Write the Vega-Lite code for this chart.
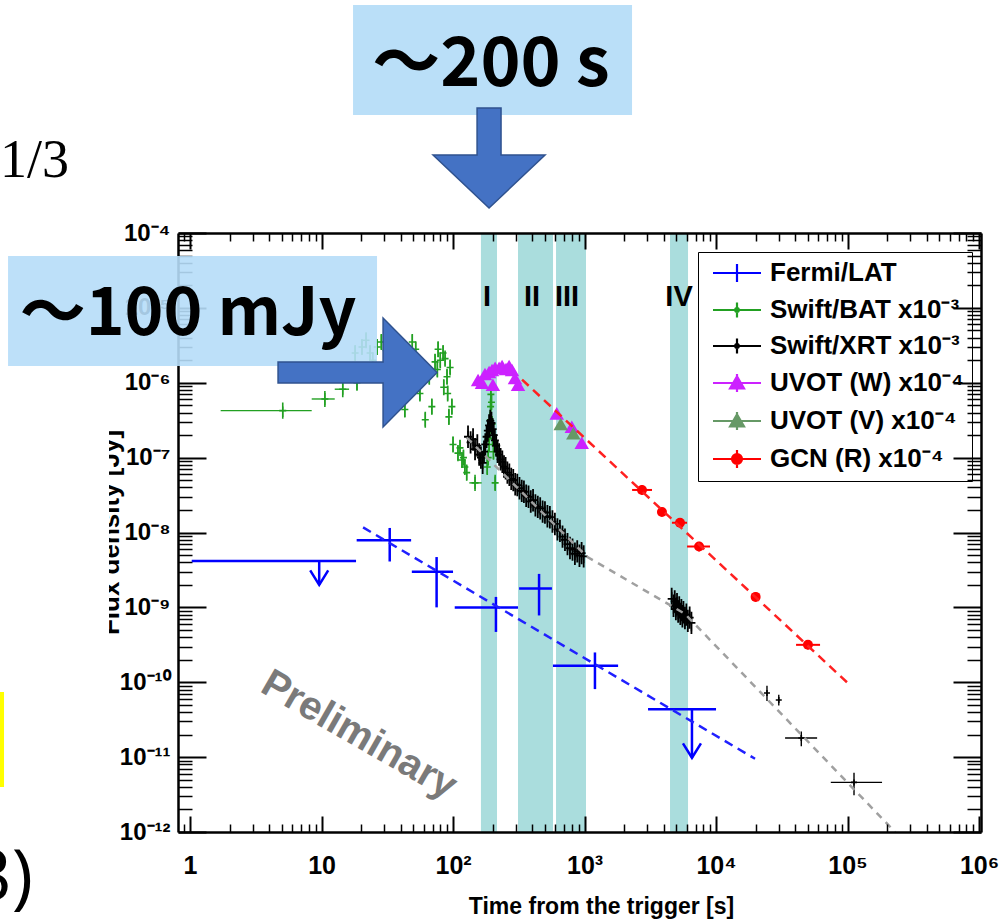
{
  "$schema": "https://vega.github.io/schema/vega-lite/v6.json",
  "width": 803,
  "height": 599,
  "autosize": {"type": "none"},
  "padding": {"left": 178, "top": 233, "right": 18, "bottom": 89},
  "background": "white",
  "config": {"view": {"stroke": null}, "font": "Liberation Sans"},
  "resolve": {"axis": {"x": "independent", "y": "independent"}},
  "datasets": {
    "bands": [
      {"band": "I", "t0": 163, "t1": 216},
      {"band": "II", "t0": 312, "t1": 576},
      {"band": "III", "t0": 607, "t1": 1026},
      {"band": "IV", "t0": 4467, "t1": 6124}
    ],
    "bandlab": [
      {"band": "I", "t": 181, "f": 1.06e-5},
      {"band": "II", "t": 399, "f": 1.06e-5},
      {"band": "III", "t": 736, "f": 1.06e-5},
      {"band": "IV", "t": 5234, "f": 1.06e-5}
    ],
    "models": [
      {"m": "XRT", "t": 127, "f": 1.85e-7},
      {"m": "XRT", "t": 1045, "f": 4.75e-9},
      {"m": "XRT", "t": 5800, "f": 8.2e-10},
      {"m": "XRT", "t": 230000, "f": 1.0e-12},
      {"m": "LAT", "t": 20.7, "f": 1.17e-8},
      {"m": "LAT", "t": 19800, "f": 9.5e-12},
      {"m": "GCN", "t": 335, "f": 1.1e-6},
      {"m": "GCN", "t": 99000, "f": 1.0e-10}
    ],
    "ul": [
      {"t": 9.6, "f": 4.16e-9, "t0": 1.03, "t1": 18.3, "tip": 2.0e-9},
      {"t": 6560, "f": 4.35e-11, "t0": 3040, "t1": 10000, "tip": 9.8e-12}
    ],
    "pts": [
      {"s": "LAT", "t": 33, "f": 7.9e-9, "t0": 18.5, "t1": 48, "f0": 4.1e-9, "f1": 1.15e-8},
      {"s": "LAT", "t": 75, "f": 3.0e-9, "t0": 48.6, "t1": 100, "f0": 1.0e-9, "f1": 4.7e-9},
      {"s": "LAT", "t": 212, "f": 1.0e-9, "t0": 103, "t1": 312, "f0": 4.7e-10, "f1": 1.38e-9},
      {"s": "LAT", "t": 451, "f": 1.78e-9, "t0": 318, "t1": 565, "f0": 7.8e-10, "f1": 2.8e-9},
      {"s": "LAT", "t": 1200, "f": 1.66e-10, "t0": 575, "t1": 1800, "f0": 8.1e-11, "f1": 2.5e-10},

      {"s": "BAT", "t": 5.07, "f": 4.24e-7, "t0": 1.71, "t1": 8.42, "f0": 3.5e-7, "f1": 4.8e-7},
      {"s": "BAT", "t": 10.6, "f": 6.07e-7, "t0": 8.42, "t1": 12.6, "f0": 5.0e-7, "f1": 7.3e-7},
      {"s": "BAT", "t": 14.5, "f": 8.2e-7, "t0": 12.6, "t1": 16.2, "f0": 6.9e-7, "f1": 1.0e-6},
      {"s": "BAT", "t": 18.6, "f": 1.0e-6, "f0": 8.0e-7, "f1": 1.25e-6},
      {"s": "BAT", "t": 18.0, "f": 2.5e-6, "f0": 2.0e-6, "f1": 3.1e-6},
      {"s": "BAT", "t": 20.3, "f": 3.0e-6, "f0": 2.4e-6, "f1": 3.75e-6},
      {"s": "BAT", "t": 21.8, "f": 3.7e-6, "f0": 3.0e-6, "f1": 4.6e-6},
      {"s": "BAT", "t": 23.4, "f": 2.5e-6, "f0": 2.0e-6, "f1": 3.1e-6},
      {"s": "BAT", "t": 24.5, "f": 2.0e-6, "f0": 1.6e-6, "f1": 2.5e-6},
      {"s": "BAT", "t": 26.5, "f": 3.0e-6, "f0": 2.4e-6, "f1": 3.75e-6},
      {"s": "BAT", "t": 28.5, "f": 3.5e-6, "f0": 2.8e-6, "f1": 4.4e-6},
      {"s": "BAT", "t": 31, "f": 2.7e-6, "f0": 2.2e-6, "f1": 3.4e-6},
      {"s": "BAT", "t": 34, "f": 2.2e-6, "f0": 1.8e-6, "f1": 2.75e-6},
      {"s": "BAT", "t": 37, "f": 3.2e-6, "f0": 2.6e-6, "f1": 4.0e-6},
      {"s": "BAT", "t": 41, "f": 1.6e-6, "f0": 1.3e-6, "f1": 2.0e-6},
      {"s": "BAT", "t": 43, "f": 4.4e-7, "f0": 3.5e-7, "f1": 5.5e-7},
      {"s": "BAT", "t": 46, "f": 2.6e-6, "f0": 2.1e-6, "f1": 3.25e-6},
      {"s": "BAT", "t": 49, "f": 3.5e-6, "f0": 2.8e-6, "f1": 4.4e-6},
      {"s": "BAT", "t": 52, "f": 2.8e-6, "f0": 2.2e-6, "f1": 3.5e-6},
      {"s": "BAT", "t": 56, "f": 7.2e-7, "f0": 5.8e-7, "f1": 9.0e-7},
      {"s": "BAT", "t": 61.5, "f": 3.2e-7, "f0": 2.6e-7, "f1": 4.0e-7},
      {"s": "BAT", "t": 66, "f": 1.2e-6, "f0": 9.6e-7, "f1": 1.5e-6},
      {"s": "BAT", "t": 69, "f": 4.8e-7, "f0": 3.8e-7, "f1": 6.0e-7},
      {"s": "BAT", "t": 73, "f": 1.9e-6, "f0": 1.5e-6, "f1": 2.4e-6},
      {"s": "BAT", "t": 76, "f": 1.5e-6, "f0": 1.2e-6, "f1": 1.9e-6},
      {"s": "BAT", "t": 77, "f": 2.8e-6, "f0": 2.2e-6, "f1": 3.5e-6},
      {"s": "BAT", "t": 80, "f": 2.0e-6, "f0": 1.6e-6, "f1": 2.5e-6},
      {"s": "BAT", "t": 84, "f": 2.5e-6, "f0": 2.0e-6, "f1": 3.1e-6},
      {"s": "BAT", "t": 85, "f": 8.7e-7, "f0": 7.0e-7, "f1": 1.1e-6},
      {"s": "BAT", "t": 87, "f": 2.1e-6, "f0": 1.7e-6, "f1": 2.6e-6},
      {"s": "BAT", "t": 90, "f": 1.2e-6, "f0": 9.6e-7, "f1": 1.5e-6},
      {"s": "BAT", "t": 91, "f": 7.2e-7, "f0": 5.8e-7, "f1": 9.0e-7},
      {"s": "BAT", "t": 93, "f": 3.5e-7, "f0": 2.8e-7, "f1": 4.4e-7},
      {"s": "BAT", "t": 95, "f": 1.6e-6, "f0": 1.3e-6, "f1": 2.0e-6},
      {"s": "BAT", "t": 98, "f": 4.8e-7, "f0": 3.8e-7, "f1": 6.0e-7},
      {"s": "BAT", "t": 100, "f": 1.5e-7, "f0": 1.2e-7, "f1": 1.9e-7},
      {"s": "BAT", "t": 109, "f": 1.15e-7, "f0": 9.2e-8, "f1": 1.45e-7},
      {"s": "BAT", "t": 113, "f": 1.35e-7, "f0": 1.1e-7, "f1": 1.7e-7},
      {"s": "BAT", "t": 117, "f": 9.3e-8, "f0": 7.4e-8, "f1": 1.16e-7},
      {"s": "BAT", "t": 120, "f": 1.0e-7, "f0": 8.0e-8, "f1": 1.25e-7},
      {"s": "BAT", "t": 123, "f": 7.5e-8, "f0": 6.0e-8, "f1": 9.4e-8},
      {"s": "BAT", "t": 127, "f": 6.3e-8, "f0": 5.0e-8, "f1": 7.9e-8},
      {"s": "BAT", "t": 147, "f": 4.6e-8, "t0": 133, "t1": 165, "f0": 3.8e-8, "f1": 5.5e-8},
      {"s": "BAT", "t": 182, "f": 7.5e-8, "f0": 6.0e-8, "f1": 9.4e-8},
      {"s": "BAT", "t": 185, "f": 1.0e-7, "f0": 8.0e-8, "f1": 1.25e-7},
      {"s": "BAT", "t": 188, "f": 1.5e-7, "f0": 1.2e-7, "f1": 1.9e-7},
      {"s": "BAT", "t": 190, "f": 2.2e-7, "f0": 1.8e-7, "f1": 2.75e-7},
      {"s": "BAT", "t": 192, "f": 3.2e-7, "f0": 2.6e-7, "f1": 4.0e-7},
      {"s": "BAT", "t": 193, "f": 4.8e-7, "f0": 3.8e-7, "f1": 6.0e-7},
      {"s": "BAT", "t": 194, "f": 7.0e-7, "f0": 5.6e-7, "f1": 8.8e-7},
      {"s": "BAT", "t": 196, "f": 5.5e-7, "f0": 4.4e-7, "f1": 6.9e-7},
      {"s": "BAT", "t": 198, "f": 2.8e-7, "f0": 2.2e-7, "f1": 3.5e-7},
      {"s": "BAT", "t": 200, "f": 1.8e-7, "f0": 1.4e-7, "f1": 2.25e-7},
      {"s": "BAT", "t": 203, "f": 1.2e-7, "f0": 9.6e-8, "f1": 1.5e-7},
      {"s": "BAT", "t": 209, "f": 4.6e-8, "f0": 3.7e-8, "f1": 5.6e-8},

      {"s": "XRT", "t": 130, "f": 1.9e-7, "f0": 1.56e-7, "f1": 2.28e-7},
      {"s": "XRT", "t": 136, "f": 1.6e-7, "f0": 1.31e-7, "f1": 1.92e-7},
      {"s": "XRT", "t": 142, "f": 1.75e-7, "f0": 1.43e-7, "f1": 2.1e-7},
      {"s": "XRT", "t": 147, "f": 1.3e-7, "f0": 1.07e-7, "f1": 1.56e-7},
      {"s": "XRT", "t": 153, "f": 1.45e-7, "f0": 1.19e-7, "f1": 1.74e-7},
      {"s": "XRT", "t": 158, "f": 1.1e-7, "f0": 9.0e-8, "f1": 1.32e-7},
      {"s": "XRT", "t": 163, "f": 1.0e-7, "f0": 8.2e-8, "f1": 1.2e-7},
      {"s": "XRT", "t": 168, "f": 8.5e-8, "f0": 7.0e-8, "f1": 1.02e-7},
      {"s": "XRT", "t": 172, "f": 1.2e-7, "f0": 9.8e-8, "f1": 1.44e-7},
      {"s": "XRT", "t": 176, "f": 1.5e-7, "f0": 1.23e-7, "f1": 1.8e-7},
      {"s": "XRT", "t": 180, "f": 1.9e-7, "f0": 1.56e-7, "f1": 2.28e-7},
      {"s": "XRT", "t": 184, "f": 2.3e-7, "f0": 1.89e-7, "f1": 2.76e-7},
      {"s": "XRT", "t": 188, "f": 2.7e-7, "f0": 2.21e-7, "f1": 3.24e-7},
      {"s": "XRT", "t": 192, "f": 3.1e-7, "f0": 2.54e-7, "f1": 3.72e-7},
      {"s": "XRT", "t": 196, "f": 2.9e-7, "f0": 2.38e-7, "f1": 3.48e-7},
      {"s": "XRT", "t": 200, "f": 2.4e-7, "f0": 1.97e-7, "f1": 2.88e-7},
      {"s": "XRT", "t": 204, "f": 2.0e-7, "f0": 1.64e-7, "f1": 2.4e-7},
      {"s": "XRT", "t": 208, "f": 1.7e-7, "f0": 1.39e-7, "f1": 2.04e-7},
      {"s": "XRT", "t": 213, "f": 1.45e-7, "f0": 1.19e-7, "f1": 1.74e-7},
      {"s": "XRT", "t": 218, "f": 1.2e-7, "f0": 9.8e-8, "f1": 1.44e-7},
      {"s": "XRT", "t": 224, "f": 1.1e-7, "f0": 9.0e-8, "f1": 1.32e-7},
      {"s": "XRT", "t": 230, "f": 9.5e-8, "f0": 7.8e-8, "f1": 1.14e-7},
      {"s": "XRT", "t": 237, "f": 8.8e-8, "f0": 7.2e-8, "f1": 1.06e-7},
      {"s": "XRT", "t": 244, "f": 7.6e-8, "f0": 6.2e-8, "f1": 9.1e-8},
      {"s": "XRT", "t": 251, "f": 7.2e-8, "f0": 5.9e-8, "f1": 8.6e-8},
      {"s": "XRT", "t": 259, "f": 6.3e-8, "f0": 5.2e-8, "f1": 7.6e-8},
      {"s": "XRT", "t": 268, "f": 5.9e-8, "f0": 4.8e-8, "f1": 7.1e-8},
      {"s": "XRT", "t": 277, "f": 5.2e-8, "f0": 4.3e-8, "f1": 6.2e-8},
      {"s": "XRT", "t": 287, "f": 5.0e-8, "f0": 4.1e-8, "f1": 6.0e-8},
      {"s": "XRT", "t": 297, "f": 4.4e-8, "f0": 3.6e-8, "f1": 5.3e-8},
      {"s": "XRT", "t": 308, "f": 4.3e-8, "f0": 3.5e-8, "f1": 5.2e-8},
      {"s": "XRT", "t": 320, "f": 3.9e-8, "f0": 3.2e-8, "f1": 4.7e-8},
      {"s": "XRT", "t": 333, "f": 3.6e-8, "f0": 2.95e-8, "f1": 4.3e-8},
      {"s": "XRT", "t": 346, "f": 3.5e-8, "f0": 2.87e-8, "f1": 4.2e-8},
      {"s": "XRT", "t": 360, "f": 3.1e-8, "f0": 2.54e-8, "f1": 3.7e-8},
      {"s": "XRT", "t": 375, "f": 3.0e-8, "f0": 2.46e-8, "f1": 3.6e-8},
      {"s": "XRT", "t": 390, "f": 2.6e-8, "f0": 2.13e-8, "f1": 3.1e-8},
      {"s": "XRT", "t": 406, "f": 2.7e-8, "f0": 2.21e-8, "f1": 3.24e-8},
      {"s": "XRT", "t": 423, "f": 2.3e-8, "f0": 1.89e-8, "f1": 2.76e-8},
      {"s": "XRT", "t": 441, "f": 2.2e-8, "f0": 1.8e-8, "f1": 2.64e-8},
      {"s": "XRT", "t": 460, "f": 2.1e-8, "f0": 1.72e-8, "f1": 2.52e-8},
      {"s": "XRT", "t": 480, "f": 1.9e-8, "f0": 1.56e-8, "f1": 2.28e-8},
      {"s": "XRT", "t": 500, "f": 1.85e-8, "f0": 1.52e-8, "f1": 2.22e-8},
      {"s": "XRT", "t": 522, "f": 1.65e-8, "f0": 1.35e-8, "f1": 1.98e-8},
      {"s": "XRT", "t": 545, "f": 1.6e-8, "f0": 1.31e-8, "f1": 1.92e-8},
      {"s": "XRT", "t": 570, "f": 1.4e-8, "f0": 1.15e-8, "f1": 1.68e-8},
      {"s": "XRT", "t": 595, "f": 1.3e-8, "f0": 1.07e-8, "f1": 1.56e-8},
      {"s": "XRT", "t": 622, "f": 1.1e-8, "f0": 9.0e-9, "f1": 1.32e-8},
      {"s": "XRT", "t": 650, "f": 1.05e-8, "f0": 8.6e-9, "f1": 1.26e-8},
      {"s": "XRT", "t": 680, "f": 8.8e-9, "f0": 7.2e-9, "f1": 1.06e-8},
      {"s": "XRT", "t": 710, "f": 8.0e-9, "f0": 6.6e-9, "f1": 9.6e-9},
      {"s": "XRT", "t": 742, "f": 7.0e-9, "f0": 5.7e-9, "f1": 8.4e-9},
      {"s": "XRT", "t": 775, "f": 6.2e-9, "f0": 5.1e-9, "f1": 7.4e-9},
      {"s": "XRT", "t": 810, "f": 5.9e-9, "f0": 4.8e-9, "f1": 7.1e-9},
      {"s": "XRT", "t": 845, "f": 5.2e-9, "f0": 4.3e-9, "f1": 6.2e-9},
      {"s": "XRT", "t": 880, "f": 5.6e-9, "f0": 4.6e-9, "f1": 6.7e-9},
      {"s": "XRT", "t": 915, "f": 4.9e-9, "f0": 4.0e-9, "f1": 5.9e-9},
      {"s": "XRT", "t": 950, "f": 5.3e-9, "f0": 4.3e-9, "f1": 6.4e-9},
      {"s": "XRT", "t": 985, "f": 4.8e-9, "f0": 3.9e-9, "f1": 5.8e-9},
      {"s": "XRT", "t": 4600, "f": 1.3e-9, "f0": 1.0e-9, "f1": 1.6e-9},
      {"s": "XRT", "t": 4750, "f": 1.05e-9, "f0": 8.2e-10, "f1": 1.3e-9},
      {"s": "XRT", "t": 4850, "f": 1.2e-9, "f0": 9.4e-10, "f1": 1.5e-9},
      {"s": "XRT", "t": 4950, "f": 9.5e-10, "f0": 7.4e-10, "f1": 1.2e-9},
      {"s": "XRT", "t": 5050, "f": 1.1e-9, "f0": 8.6e-10, "f1": 1.38e-9},
      {"s": "XRT", "t": 5150, "f": 8.8e-10, "f0": 6.9e-10, "f1": 1.1e-9},
      {"s": "XRT", "t": 5250, "f": 1.0e-9, "f0": 7.8e-10, "f1": 1.25e-9},
      {"s": "XRT", "t": 5350, "f": 8.2e-10, "f0": 6.4e-10, "f1": 1.03e-9},
      {"s": "XRT", "t": 5450, "f": 9.2e-10, "f0": 7.2e-10, "f1": 1.15e-9},
      {"s": "XRT", "t": 5550, "f": 7.6e-10, "f0": 5.9e-10, "f1": 9.5e-10},
      {"s": "XRT", "t": 5650, "f": 8.6e-10, "f0": 6.7e-10, "f1": 1.08e-9},
      {"s": "XRT", "t": 5800, "f": 7.2e-10, "f0": 5.6e-10, "f1": 9.0e-10},
      {"s": "XRT", "t": 5950, "f": 8.0e-10, "f0": 6.2e-10, "f1": 1.0e-9},
      {"s": "XRT", "t": 6100, "f": 6.6e-10, "f0": 5.1e-10, "f1": 8.2e-10},
      {"s": "XRT", "t": 6300, "f": 7.3e-10, "f0": 5.7e-10, "f1": 9.1e-10},
      {"s": "XRT", "t": 6500, "f": 6.2e-10, "f0": 4.8e-10, "f1": 7.8e-10},
      {"s": "XRT", "t": 24400, "f": 7.2e-11, "f0": 5.6e-11, "f1": 9.0e-11},
      {"s": "XRT", "t": 30000, "f": 5.8e-11, "f0": 4.9e-11, "f1": 6.8e-11},
      {"s": "XRT", "t": 44500, "f": 1.8e-11, "t0": 33500, "t1": 58700, "f0": 1.4e-11, "f1": 2.2e-11},
      {"s": "XRT", "t": 112000, "f": 4.6e-12, "t0": 74600, "t1": 183000, "f0": 3.1e-12, "f1": 6.2e-12},

      {"s": "UVW", "t": 155, "f": 1.09e-6},
      {"s": "UVW", "t": 166, "f": 1.0e-6},
      {"s": "UVW", "t": 175, "f": 1.31e-6},
      {"s": "UVW", "t": 188, "f": 1.39e-6},
      {"s": "UVW", "t": 198, "f": 1.48e-6},
      {"s": "UVW", "t": 201, "f": 9.4e-7},
      {"s": "UVW", "t": 209, "f": 1.58e-6},
      {"s": "UVW", "t": 224, "f": 1.58e-6},
      {"s": "UVW", "t": 236, "f": 1.67e-6},
      {"s": "UVW", "t": 253, "f": 1.53e-6},
      {"s": "UVW", "t": 267, "f": 1.67e-6},
      {"s": "UVW", "t": 281, "f": 1.48e-6},
      {"s": "UVW", "t": 296, "f": 1.16e-6},
      {"s": "UVW", "t": 312, "f": 9.4e-7},
      {"s": "UVW", "t": 615, "f": 3.9e-7},
      {"s": "UVW", "t": 800, "f": 2.59e-7},
      {"s": "UVW", "t": 952, "f": 1.58e-7},
      {"s": "UVV", "t": 659, "f": 2.81e-7},
      {"s": "UVV", "t": 822, "f": 2.11e-7},

      {"s": "GCN", "t": 2735, "f": 3.7e-8, "t0": 2300, "t1": 3260, "f0": 3.2e-8, "f1": 4.3e-8},
      {"s": "GCN", "t": 3880, "f": 1.88e-8, "f0": 1.65e-8, "f1": 2.15e-8},
      {"s": "GCN", "t": 5320, "f": 1.35e-8, "t0": 4620, "t1": 6020, "f0": 1.18e-8, "f1": 1.55e-8},
      {"s": "GCN", "t": 7430, "f": 6.5e-9, "t0": 6020, "t1": 9000, "f0": 5.6e-9, "f1": 7.5e-9},
      {"s": "GCN", "t": 20000, "f": 1.38e-9, "f0": 1.2e-9, "f1": 1.6e-9},
      {"s": "GCN", "t": 50000, "f": 3.16e-10, "t0": 40600, "t1": 61800, "f0": 2.75e-10, "f1": 3.65e-10}
    ]
  },
  "layer": [
    {
      "data": {"name": "bands"},
      "mark": {"type": "rect", "fill": "#aadddd"},
      "encoding": {
        "x": {"field": "t0", "type": "quantitative", "scale": {"type": "log", "domain": [0.81, 1035000], "nice": false},
          "axis": {"orient": "bottom", "values": [1, 10, 100, 1000, 10000, 100000, 1000000],
            "labelExpr": "datum.value == 1 ? '1' : datum.value == 10 ? '10' : '10' + ['', '', '²', '³', '⁴', '⁵', '⁶'][round(log(datum.value) / LN10)]",
            "labelFont": "Liberation Sans", "labelFontWeight": "bold", "labelFontSize": 25, "labelColor": "black",
            "labelPadding": 37, "labelBaseline": "top", "labelFlush": false, "labelOverlap": false,
            "tickSize": -16, "tickWidth": 2, "tickColor": "black",
            "domain": true, "domainColor": "black", "domainWidth": 2.5, "grid": false,
            "title": "Time from the trigger [s]", "titleFont": "Liberation Sans", "titleFontWeight": "bold", "titleFontSize": 23, "titleColor": "black",
            "titleX": 423, "titleY": 81, "titleBaseline": "alphabetic", "titleAlign": "center", "titleAnchor": null, "zindex": 1}},
        "x2": {"field": "t1"}
      }
    },
    {
      "data": {"name": "bandlab"},
      "mark": {"type": "text", "font": "Liberation Sans", "fontWeight": "bold", "fontSize": 29, "fill": "black", "align": "center", "baseline": "alphabetic"},
      "encoding": {
        "x": {"field": "t", "type": "quantitative", "scale": {"type": "log", "domain": [0.81, 1035000], "nice": false}, "axis": null},
        "y": {"field": "f", "type": "quantitative", "scale": {"type": "log", "domain": [1e-12, 0.0001], "nice": false}, "axis": null},
        "text": {"field": "band"}
      }
    },
    {
      "data": {"name": "pts"},
      "transform": [{"filter": "(datum.s == 'BAT' || datum.s == 'XRT') && datum.f0 != null"}],
      "mark": {"type": "rule", "strokeWidth": 1.4},
      "encoding": {
        "x": {"field": "t", "type": "quantitative", "scale": {"type": "log", "domain": [0.81, 1035000], "nice": false},
          "axis": {"orient": "top", "values": [0.9, 2, 3, 4, 5, 6, 7, 8, 9, 20, 30, 40, 50, 60, 70, 80, 90, 200, 300, 400, 500, 600, 700, 800, 900, 2000, 3000, 4000, 5000, 6000, 7000, 8000, 9000, 20000, 30000, 40000, 50000, 60000, 70000, 80000, 90000, 200000, 300000, 400000, 500000, 600000, 700000, 800000, 900000],
            "labels": false, "tickSize": -8, "tickWidth": 1.5, "tickColor": "black", "domain": false, "grid": false, "title": null, "zindex": 1}},
        "y": {"field": "f0", "type": "quantitative", "scale": {"type": "log", "domain": [1e-12, 0.0001], "nice": false},
          "axis": {"orient": "right", "values": [2e-12, 3e-12, 4e-12, 5e-12, 6e-12, 7e-12, 8e-12, 9e-12, 2e-11, 3e-11, 4e-11, 5e-11, 6e-11, 7e-11, 8e-11, 9e-11, 2e-10, 3e-10, 4e-10, 5e-10, 6e-10, 7e-10, 8e-10, 9e-10, 2e-9, 3e-9, 4e-9, 5e-9, 6e-9, 7e-9, 8e-9, 9e-9, 2e-8, 3e-8, 4e-8, 5e-8, 6e-8, 7e-8, 8e-8, 9e-8, 2e-7, 3e-7, 4e-7, 5e-7, 6e-7, 7e-7, 8e-7, 9e-7, 2e-6, 3e-6, 4e-6, 5e-6, 6e-6, 7e-6, 8e-6, 9e-6, 2e-5, 3e-5, 4e-5, 5e-5, 6e-5, 7e-5, 8e-5, 9e-5],
            "labels": false, "tickSize": -14, "tickWidth": 1.5, "tickColor": "black", "domain": false, "grid": false, "title": null, "zindex": 1}},
        "y2": {"field": "f1"},
        "color": {"condition": {"test": "datum.s == 'BAT'", "value": "#22a022"}, "value": "#000000"}
      }
    },
    {
      "data": {"name": "pts"},
      "transform": [{"filter": "(datum.s == 'BAT' || datum.s == 'XRT') && datum.t0 != null"}],
      "mark": {"type": "rule", "strokeWidth": 1.4},
      "encoding": {
        "x": {"field": "t0", "type": "quantitative", "scale": {"type": "log", "domain": [0.81, 1035000], "nice": false}, "axis": null},
        "x2": {"field": "t1"},
        "y": {"field": "f", "type": "quantitative", "scale": {"type": "log", "domain": [1e-12, 0.0001], "nice": false}, "axis": null},
        "color": {"condition": {"test": "datum.s == 'BAT'", "value": "#22a022"}, "value": "#000000"}
      }
    },
    {
      "data": {"name": "pts"},
      "transform": [{"filter": "datum.s == 'BAT'"}],
      "mark": {"type": "point", "shape": "M-1,0H1M0,-2.3V2.3", "filled": false, "size": 49, "strokeWidth": 1.6, "color": "#22a022", "opacity": 1},
      "encoding": {
        "x": {"field": "t", "type": "quantitative", "scale": {"type": "log", "domain": [0.81, 1035000], "nice": false}, "axis": null},
        "y": {"field": "f", "type": "quantitative", "scale": {"type": "log", "domain": [1e-12, 0.0001], "nice": false}, "axis": null}
      }
    },
    {
      "data": {"name": "pts"},
      "transform": [{"filter": "datum.s == 'XRT' && datum.t < 10000"}],
      "mark": {"type": "point", "shape": "M-1,0H1M0,-2.8V2.8", "filled": false, "size": 64, "strokeWidth": 1.8, "color": "#000000", "opacity": 1},
      "encoding": {
        "x": {"field": "t", "type": "quantitative", "scale": {"type": "log", "domain": [0.81, 1035000], "nice": false}, "axis": null},
        "y": {"field": "f", "type": "quantitative", "scale": {"type": "log", "domain": [1e-12, 0.0001], "nice": false}, "axis": null}
      }
    },
    {
      "data": {"name": "pts"},
      "transform": [{"filter": "datum.s == 'XRT' && datum.t > 10000"}],
      "mark": {"type": "point", "shape": "M-1,0H1M0,-1V1", "filled": false, "size": 36, "strokeWidth": 1.6, "color": "#000000", "opacity": 1},
      "encoding": {
        "x": {"field": "t", "type": "quantitative", "scale": {"type": "log", "domain": [0.81, 1035000], "nice": false}, "axis": null},
        "y": {"field": "f", "type": "quantitative", "scale": {"type": "log", "domain": [1e-12, 0.0001], "nice": false}, "axis": null}
      }
    },
    {
      "data": {"name": "pts"},
      "transform": [{"filter": "datum.s == 'LAT'"}],
      "mark": {"type": "rule", "strokeWidth": 2.5, "color": "#0000ff"},
      "encoding": {
        "x": {"field": "t", "type": "quantitative", "scale": {"type": "log", "domain": [0.81, 1035000], "nice": false}, "axis": null},
        "y": {"field": "f0", "type": "quantitative", "scale": {"type": "log", "domain": [1e-12, 0.0001], "nice": false}, "axis": null},
        "y2": {"field": "f1"}
      }
    },
    {
      "data": {"name": "pts"},
      "transform": [{"filter": "datum.s == 'LAT'"}],
      "mark": {"type": "rule", "strokeWidth": 2.5, "color": "#0000ff"},
      "encoding": {
        "x": {"field": "t0", "type": "quantitative", "scale": {"type": "log", "domain": [0.81, 1035000], "nice": false}, "axis": null},
        "x2": {"field": "t1"},
        "y": {"field": "f", "type": "quantitative", "scale": {"type": "log", "domain": [1e-12, 0.0001], "nice": false}, "axis": null}
      }
    },
    {
      "data": {"name": "ul"},
      "mark": {"type": "rule", "strokeWidth": 2.5, "color": "#0000ff"},
      "encoding": {
        "x": {"field": "t0", "type": "quantitative", "scale": {"type": "log", "domain": [0.81, 1035000], "nice": false}, "axis": null},
        "x2": {"field": "t1"},
        "y": {"field": "f", "type": "quantitative", "scale": {"type": "log", "domain": [1e-12, 0.0001], "nice": false}, "axis": null}
      }
    },
    {
      "data": {"name": "ul"},
      "mark": {"type": "rule", "strokeWidth": 2.5, "color": "#0000ff"},
      "encoding": {
        "x": {"field": "t", "type": "quantitative", "scale": {"type": "log", "domain": [0.81, 1035000], "nice": false}, "axis": null},
        "y": {"field": "f", "type": "quantitative", "scale": {"type": "log", "domain": [1e-12, 0.0001], "nice": false}, "axis": null},
        "y2": {"field": "tip"}
      }
    },
    {
      "data": {"name": "ul"},
      "mark": {"type": "point", "shape": "M-1,-1.6L0,0L1,-1.6", "filled": false, "size": 324, "strokeWidth": 2.5, "color": "#0000ff", "opacity": 1},
      "encoding": {
        "x": {"field": "t", "type": "quantitative", "scale": {"type": "log", "domain": [0.81, 1035000], "nice": false}, "axis": null},
        "y": {"field": "tip", "type": "quantitative", "scale": {"type": "log", "domain": [1e-12, 0.0001], "nice": false}, "axis": null}
      }
    },
    {
      "data": {"name": "pts"},
      "transform": [{"filter": "datum.s == 'GCN'"}],
      "mark": {"type": "rule", "strokeWidth": 2, "color": "#ff0000"},
      "encoding": {
        "x": {"field": "t", "type": "quantitative", "scale": {"type": "log", "domain": [0.81, 1035000], "nice": false}, "axis": null},
        "y": {"field": "f0", "type": "quantitative", "scale": {"type": "log", "domain": [1e-12, 0.0001], "nice": false}, "axis": null},
        "y2": {"field": "f1"}
      }
    },
    {
      "data": {"name": "pts"},
      "transform": [{"filter": "datum.s == 'GCN' && datum.t0 != null"}],
      "mark": {"type": "rule", "strokeWidth": 2, "color": "#ff0000"},
      "encoding": {
        "x": {"field": "t0", "type": "quantitative", "scale": {"type": "log", "domain": [0.81, 1035000], "nice": false}, "axis": null},
        "x2": {"field": "t1"},
        "y": {"field": "f", "type": "quantitative", "scale": {"type": "log", "domain": [1e-12, 0.0001], "nice": false}, "axis": null}
      }
    },
    {
      "data": {"name": "pts"},
      "transform": [{"filter": "datum.s == 'GCN'"}],
      "mark": {"type": "point", "shape": "circle", "filled": true, "size": 100, "color": "#ff0000", "opacity": 1},
      "encoding": {
        "x": {"field": "t", "type": "quantitative", "scale": {"type": "log", "domain": [0.81, 1035000], "nice": false}, "axis": null},
        "y": {"field": "f", "type": "quantitative", "scale": {"type": "log", "domain": [1e-12, 0.0001], "nice": false}, "axis": null}
      }
    },
    {
      "data": {"name": "pts"},
      "transform": [{"filter": "datum.s == 'UVW' || datum.s == 'UVV'"}],
      "mark": {"type": "point", "shape": "triangle-up", "filled": true, "size": 210, "opacity": 1},
      "encoding": {
        "x": {"field": "t", "type": "quantitative", "scale": {"type": "log", "domain": [0.81, 1035000], "nice": false}, "axis": null},
        "y": {"field": "f", "type": "quantitative", "scale": {"type": "log", "domain": [1e-12, 0.0001], "nice": false}, "axis": null},
        "color": {"condition": {"test": "datum.s == 'UVW'", "value": "#cc22ff"}, "value": "#669966"}
      }
    },
    {
      "data": {"name": "models"},
      "transform": [{"filter": "datum.m == 'XRT'"}],
      "mark": {"type": "line", "stroke": "#a0a0a0", "strokeWidth": 2.5, "strokeDash": [7, 6]},
      "encoding": {
        "x": {"field": "t", "type": "quantitative", "scale": {"type": "log", "domain": [0.81, 1035000], "nice": false}, "axis": null},
        "y": {"field": "f", "type": "quantitative", "scale": {"type": "log", "domain": [1e-12, 0.0001], "nice": false},
          "axis": {"orient": "left", "values": [1e-12, 1e-11, 1e-10, 1e-9, 1e-8, 1e-7, 1e-6, 1e-5, 0.0001],
            "labelExpr": "'10' + ['⁻¹²', '⁻¹¹', '⁻¹⁰', '⁻⁹', '⁻⁸', '⁻⁷', '⁻⁶', '⁻⁵', '⁻⁴'][round(log(datum.value) / LN10) + 12]",
            "labelFont": "Liberation Sans", "labelFontWeight": "bold", "labelFontSize": 24, "labelColor": "black",
            "labelPadding": 36, "labelBaseline": "middle", "labelAlign": "right", "labelFlush": false, "labelOverlap": false,
            "tickSize": -28, "tickWidth": 2, "tickColor": "black",
            "domain": true, "domainColor": "black", "domainWidth": 2.5, "grid": false,
            "title": "Flux density [Jy]", "titleFont": "Liberation Sans", "titleFontWeight": "bold", "titleFontSize": 26, "titleColor": "black",
            "titleX": -60, "titleY": 299, "titleAngle": -90, "titleBaseline": "alphabetic", "titleAlign": "center", "titleAnchor": null, "zindex": 0}},
        "order": {"field": "t", "type": "quantitative"}
      }
    },
    {
      "data": {"name": "models"},
      "transform": [{"filter": "datum.m == 'LAT'"}],
      "mark": {"type": "line", "stroke": "#2020ff", "strokeWidth": 2.5, "strokeDash": [9, 6]},
      "encoding": {
        "x": {"field": "t", "type": "quantitative", "scale": {"type": "log", "domain": [0.81, 1035000], "nice": false},
          "axis": {"orient": "top", "values": [1, 10, 100, 1000, 10000, 100000, 1000000], "labels": false, "tickSize": -16, "tickWidth": 2, "tickColor": "black",
            "domain": true, "domainColor": "black", "domainWidth": 2.5, "grid": false, "title": null, "zindex": 1}},
        "y": {"field": "f", "type": "quantitative", "scale": {"type": "log", "domain": [1e-12, 0.0001], "nice": false},
          "axis": {"orient": "right", "values": [1e-12, 1e-11, 1e-10, 1e-9, 1e-8, 1e-7, 1e-6, 1e-5, 0.0001], "labels": false, "tickSize": -28, "tickWidth": 2, "tickColor": "black",
            "domain": true, "domainColor": "black", "domainWidth": 2.5, "grid": false, "title": null, "zindex": 1}}
      }
    },
    {
      "data": {"name": "models"},
      "transform": [{"filter": "datum.m == 'GCN'"}],
      "mark": {"type": "line", "stroke": "#ff2020", "strokeWidth": 2.5, "strokeDash": [9, 6]},
      "encoding": {
        "x": {"field": "t", "type": "quantitative", "scale": {"type": "log", "domain": [0.81, 1035000], "nice": false},
          "axis": {"orient": "bottom", "values": [0.9, 2, 3, 4, 5, 6, 7, 8, 9, 20, 30, 40, 50, 60, 70, 80, 90, 200, 300, 400, 500, 600, 700, 800, 900, 2000, 3000, 4000, 5000, 6000, 7000, 8000, 9000, 20000, 30000, 40000, 50000, 60000, 70000, 80000, 90000, 200000, 300000, 400000, 500000, 600000, 700000, 800000, 900000],
            "labels": false, "tickSize": -8, "tickWidth": 1.5, "tickColor": "black", "domain": false, "grid": false, "title": null, "zindex": 1}},
        "y": {"field": "f", "type": "quantitative", "scale": {"type": "log", "domain": [1e-12, 0.0001], "nice": false},
          "axis": {"orient": "left", "values": [2e-12, 3e-12, 4e-12, 5e-12, 6e-12, 7e-12, 8e-12, 9e-12, 2e-11, 3e-11, 4e-11, 5e-11, 6e-11, 7e-11, 8e-11, 9e-11, 2e-10, 3e-10, 4e-10, 5e-10, 6e-10, 7e-10, 8e-10, 9e-10, 2e-9, 3e-9, 4e-9, 5e-9, 6e-9, 7e-9, 8e-9, 9e-9, 2e-8, 3e-8, 4e-8, 5e-8, 6e-8, 7e-8, 8e-8, 9e-8, 2e-7, 3e-7, 4e-7, 5e-7, 6e-7, 7e-7, 8e-7, 9e-7, 2e-6, 3e-6, 4e-6, 5e-6, 6e-6, 7e-6, 8e-6, 9e-6, 2e-5, 3e-5, 4e-5, 5e-5, 6e-5, 7e-5, 8e-5, 9e-5],
            "labels": false, "tickSize": -14, "tickWidth": 1.5, "tickColor": "black", "domain": false, "grid": false, "title": null, "zindex": 0}}
      }
    },
    {
      "data": {"values": [{"label": "Preliminary"}]},
      "mark": {"type": "text", "font": "Liberation Sans", "fontWeight": "bold", "fontSize": 40, "fill": "#7a7a7a", "angle": 30, "align": "center", "baseline": "middle"},
      "encoding": {
        "x": {"datum": 19.28, "type": "quantitative", "scale": {"type": "log", "domain": [0.81, 1035000], "nice": false}, "axis": null},
        "y": {"datum": 1.975e-11, "type": "quantitative", "scale": {"type": "log", "domain": [1e-12, 0.0001], "nice": false}, "axis": null},
        "text": {"field": "label"}
      }
    },
    {
      "data": {"values": [{"s": "LAT"}, {"s": "BAT"}, {"s": "XRT"}, {"s": "UVW"}, {"s": "UVV"}, {"s": "GCN"}]},
      "mark": {"type": "point", "clip": true, "opacity": 1},
      "encoding": {
        "x": {"datum": 50000000, "type": "quantitative", "scale": {"type": "log", "domain": [0.81, 1035000], "nice": false}, "axis": null},
        "y": {"datum": 1e-8, "type": "quantitative", "scale": {"type": "log", "domain": [1e-12, 0.0001], "nice": false}, "axis": null},
        "fill": {"field": "s", "type": "nominal",
          "scale": {"domain": ["LAT", "BAT", "XRT", "UVW", "UVV", "GCN"], "range": ["#0000ff", "#22a022", "#000000", "#cc22ff", "#669966", "#ff0000"]},
          "legend": {"orient": "none", "legendX": 520, "legendY": 19, "title": null, "padding": 8,
            "strokeColor": "black", "fillColor": "white",
            "labelFont": "Liberation Sans", "labelFontWeight": "bold", "labelFontSize": 26, "labelColor": "black", "labelLimit": 0,
            "labelOffset": 20, "symbolOffset": 18, "symbolSize": 400, "symbolStrokeWidth": 2.2, "symbolOpacity": 1, "rowPadding": 10,
            "labelExpr": "datum.value == 'LAT' ? 'Fermi/LAT' : datum.value == 'BAT' ? 'Swift/BAT x10⁻³' : datum.value == 'XRT' ? 'Swift/XRT x10⁻³' : datum.value == 'UVW' ? 'UVOT (W) x10⁻⁴' : datum.value == 'UVV' ? 'UVOT (V) x10⁻⁴' : 'GCN (R) x10⁻⁴'"}},
        "stroke": {"field": "s", "type": "nominal",
          "scale": {"domain": ["LAT", "BAT", "XRT", "UVW", "UVV", "GCN"], "range": ["#0000ff", "#22a022", "#000000", "#cc22ff", "#669966", "#ff0000"]},
          "legend": {"orient": "none", "legendX": 520, "legendY": 19, "title": null, "padding": 8,
            "strokeColor": "black", "fillColor": "white",
            "labelFont": "Liberation Sans", "labelFontWeight": "bold", "labelFontSize": 26, "labelColor": "black", "labelLimit": 0,
            "labelOffset": 20, "symbolOffset": 18, "symbolSize": 400, "symbolStrokeWidth": 2.2, "symbolOpacity": 1, "rowPadding": 10,
            "labelExpr": "datum.value == 'LAT' ? 'Fermi/LAT' : datum.value == 'BAT' ? 'Swift/BAT x10⁻³' : datum.value == 'XRT' ? 'Swift/XRT x10⁻³' : datum.value == 'UVW' ? 'UVOT (W) x10⁻⁴' : datum.value == 'UVV' ? 'UVOT (V) x10⁻⁴' : 'GCN (R) x10⁻⁴'"}},
        "shape": {"field": "s", "type": "nominal",
          "scale": {"domain": ["LAT", "BAT", "XRT", "UVW", "UVV", "GCN"],
            "range": ["M-2.4,0H2.4M0,-0.9V0.9",
              "M-2.4,0H2.4M0,-0.75V0.75M-0.18,0A0.18,0.18,0,1,0,0.18,0A0.18,0.18,0,1,0,-0.18,0",
              "M-2.4,0H2.4M0,-0.75V0.75M-0.18,0A0.18,0.18,0,1,0,0.18,0A0.18,0.18,0,1,0,-0.18,0",
              "M-2.4,0H2.4M0,-0.9V0.9M-0.7,0.55L0,-0.65L0.7,0.55Z",
              "M-2.4,0H2.4M0,-0.9V0.9M-0.7,0.55L0,-0.65L0.7,0.55Z",
              "M-2.4,0H2.4M0,-0.9V0.9M-0.5,0A0.5,0.5,0,1,0,0.5,0A0.5,0.5,0,1,0,-0.5,0"]},
          "legend": {"orient": "none", "legendX": 520, "legendY": 19, "title": null, "padding": 8,
            "strokeColor": "black", "fillColor": "white",
            "labelFont": "Liberation Sans", "labelFontWeight": "bold", "labelFontSize": 26, "labelColor": "black", "labelLimit": 0,
            "labelOffset": 20, "symbolOffset": 18, "symbolSize": 400, "symbolStrokeWidth": 2.2, "symbolOpacity": 1, "rowPadding": 10,
            "labelExpr": "datum.value == 'LAT' ? 'Fermi/LAT' : datum.value == 'BAT' ? 'Swift/BAT x10⁻³' : datum.value == 'XRT' ? 'Swift/XRT x10⁻³' : datum.value == 'UVW' ? 'UVOT (W) x10⁻⁴' : datum.value == 'UVV' ? 'UVOT (V) x10⁻⁴' : 'GCN (R) x10⁻⁴'"}}
      }
    },
    {
      "data": {"values": [{}]},
      "mark": {"type": "rect", "fill": "white"},
      "encoding": {
        "x": {"datum": 0.02, "type": "quantitative", "scale": {"type": "log", "domain": [0.81, 1035000], "nice": false}, "axis": null},
        "x2": {"datum": 0.242},
        "y": {"datum": 1.48e-6, "type": "quantitative", "scale": {"type": "log", "domain": [1e-12, 0.0001], "nice": false}, "axis": null},
        "y2": {"datum": 7.88e-11}
      }
    },
    {
      "data": {"values": [{}]},
      "mark": {"type": "rect", "fill": "#ffff00"},
      "encoding": {
        "x": {"datum": 0.02, "type": "quantitative", "scale": {"type": "log", "domain": [0.81, 1035000], "nice": false}, "axis": null},
        "x2": {"datum": 0.0385},
        "y": {"datum": 7.41e-11, "type": "quantitative", "scale": {"type": "log", "domain": [1e-12, 0.0001], "nice": false}, "axis": null},
        "y2": {"datum": 3.99e-12}
      }
    },
    {
      "data": {"values": [{}]},
      "mark": {"type": "rect", "fill": "#b6ddf8", "opacity": 0.9},
      "encoding": {
        "x": {"datum": 0.0413, "type": "quantitative", "scale": {"type": "log", "domain": [0.81, 1035000], "nice": false}, "axis": null},
        "x2": {"datum": 26.43},
        "y": {"datum": 4.93e-5, "type": "quantitative", "scale": {"type": "log", "domain": [1e-12, 0.0001], "nice": false}, "axis": null},
        "y2": {"datum": 1.674e-6}
      }
    },
    {
      "data": {"values": [{}]},
      "mark": {"type": "rect", "fill": "#b6ddf8", "opacity": 0.95},
      "encoding": {
        "x": {"datum": 17.36, "type": "quantitative", "scale": {"type": "log", "domain": [0.81, 1035000], "nice": false}, "axis": null},
        "x2": {"datum": 2297},
        "y": {"datum": 0.111, "type": "quantitative", "scale": {"type": "log", "domain": [1e-12, 0.0001], "nice": false}, "axis": null},
        "y2": {"datum": 0.003767}
      }
    },
    {
      "data": {"values": [{"label": "～100 mJy"}]},
      "mark": {"type": "text", "font": "Noto Sans CJK JP", "fontWeight": "bold", "fontSize": 66, "fill": "black", "align": "center", "baseline": "alphabetic"},
      "encoding": {
        "x": {"datum": 0.9656, "type": "quantitative", "scale": {"type": "log", "domain": [0.81, 1035000], "nice": false}, "axis": null},
        "y": {"datum": 4.35e-6, "type": "quantitative", "scale": {"type": "log", "domain": [1e-12, 0.0001], "nice": false}, "axis": null},
        "text": {"field": "label"}
      }
    },
    {
      "data": {"values": [{"label": "～200 s"}]},
      "mark": {"type": "text", "font": "Noto Sans CJK JP", "fontWeight": "bold", "fontSize": 68, "fill": "black", "align": "center", "baseline": "alphabetic"},
      "encoding": {
        "x": {"datum": 194.5, "type": "quantitative", "scale": {"type": "log", "domain": [0.81, 1035000], "nice": false}, "axis": null},
        "y": {"datum": 0.00919, "type": "quantitative", "scale": {"type": "log", "domain": [1e-12, 0.0001], "nice": false}, "axis": null},
        "text": {"field": "label"}
      }
    },
    {
      "data": {"values": [{}]},
      "mark": {"type": "point", "shape": "M-1,-0.132H0.321V-0.686L1,0L0.321,0.686V0.132H-1Z", "size": 25281, "filled": true, "fill": "#4472c4", "stroke": "#2f528f", "strokeWidth": 1.5, "opacity": 1},
      "encoding": {
        "x": {"datum": 18.79, "type": "quantitative", "scale": {"type": "log", "domain": [0.81, 1035000], "nice": false}, "axis": null},
        "y": {"datum": 1.37e-6, "type": "quantitative", "scale": {"type": "log", "domain": [1e-12, 0.0001], "nice": false}, "axis": null}
      }
    },
    {
      "data": {"values": [{}]},
      "mark": {"type": "point", "shape": "M-0.214,-0.893H0.214V-0.054H1L0,0.893L-1,-0.054H-0.214Z", "size": 12544, "filled": true, "fill": "#4472c4", "stroke": "#2f528f", "strokeWidth": 1.5, "opacity": 1},
      "encoding": {
        "x": {"datum": 187.9, "type": "quantitative", "scale": {"type": "log", "domain": [0.81, 1035000], "nice": false}, "axis": null},
        "y": {"datum": 0.001004, "type": "quantitative", "scale": {"type": "log", "domain": [1e-12, 0.0001], "nice": false}, "axis": null}
      }
    },
    {
      "data": {"values": [{"label": "1/3"}]},
      "mark": {"type": "text", "font": "Liberation Serif", "fontSize": 54, "fill": "black", "align": "left", "baseline": "alphabetic"},
      "encoding": {
        "x": {"datum": 0.0359, "type": "quantitative", "scale": {"type": "log", "domain": [0.81, 1035000], "nice": false}, "axis": null},
        "y": {"datum": 0.00056, "type": "quantitative", "scale": {"type": "log", "domain": [1e-12, 0.0001], "nice": false}, "axis": null},
        "text": {"field": "label"}
      }
    },
    {
      "data": {"values": [{"label": "3)"}]},
      "mark": {"type": "text", "font": "Open Sans", "fontSize": 72, "fill": "black", "align": "right", "baseline": "alphabetic"},
      "encoding": {
        "x": {"datum": 0.064, "type": "quantitative", "scale": {"type": "log", "domain": [0.81, 1035000], "nice": false}, "axis": null},
        "y": {"datum": 1.2e-13, "type": "quantitative", "scale": {"type": "log", "domain": [1e-12, 0.0001], "nice": false}, "axis": null},
        "text": {"field": "label"}
      }
    }
  ]
}
